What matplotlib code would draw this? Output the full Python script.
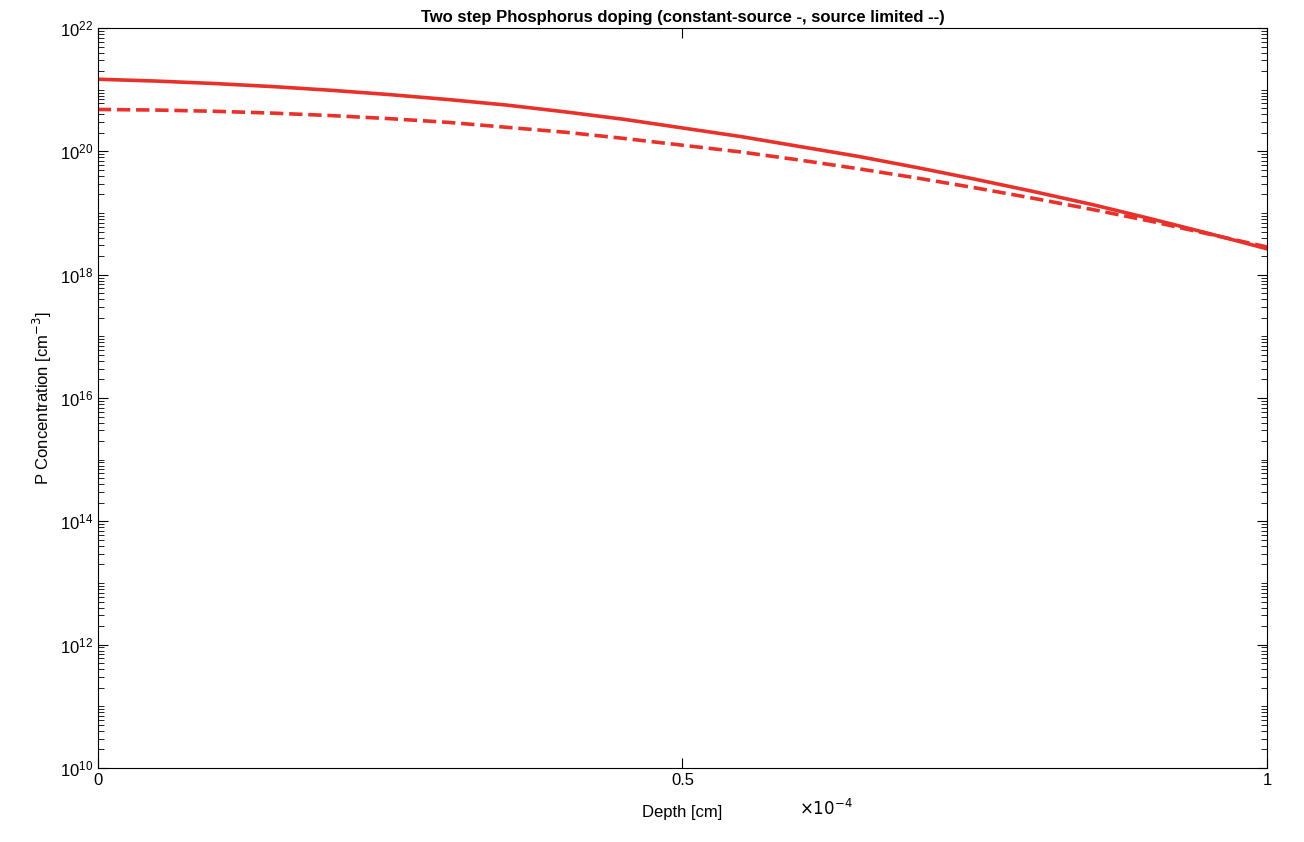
import numpy as np
import matplotlib.pyplot as plt
from matplotlib.ticker import LogLocator, NullFormatter

plt.rcParams['font.family'] = ['Liberation Sans', 'DejaVu Sans']

# depth in units of 1e-4 cm, log10 of concentration
depth = [0.0, 0.05, 0.1, 0.15, 0.2, 0.25, 0.3, 0.35, 0.4, 0.45, 0.5,
         0.55, 0.6, 0.65, 0.7, 0.75, 0.8, 0.85, 0.9, 0.95, 1.0]
log_const = [21.17, 21.14, 21.10, 21.05, 20.99, 20.92, 20.84, 20.75, 20.64, 20.52, 20.38,
             20.24, 20.08, 19.92, 19.74, 19.55, 19.35, 19.14, 18.91, 18.67, 18.10 + 0.32]
log_limited = [20.68, 20.67, 20.65, 20.62, 20.58, 20.53, 20.47, 20.39, 20.31, 20.21, 20.10,
               19.99, 19.86, 19.72, 19.57, 19.41, 19.24, 19.06, 18.87, 18.66, 18.45]

x = np.array(depth) * 1e-4
c = '#E8312A'

fig = plt.figure(figsize=(13.04, 8.42), dpi=100)
ax = fig.add_axes([0.075, 0.0879, 0.8966, 0.8788])
ax.semilogy(x, 10 ** np.array(log_const), '-', color=c, lw=2.6)
ax.semilogy(x, 10 ** np.array(log_limited), '--', color=c, lw=2.6)
ax.set_xlim(0, 1e-4)
ax.set_ylim(1e10, 1e22)
ax.set_xticks([0, 0.5e-4, 1e-4])
ax.set_xticklabels(['0', '0.5', '1'])
ax.set_yticks([10.0 ** k for k in range(10, 23, 2)])
ax.yaxis.set_minor_locator(LogLocator(base=10, subs=np.arange(1, 10), numticks=100))
ax.yaxis.set_minor_formatter(NullFormatter())
ax.tick_params(which='both', direction='in', top=True, right=True, labelsize=12)
ax.tick_params(which='major', length=7)
ax.tick_params(which='minor', length=4)
ax.text(0.6, -0.04, r'$\times10^{-4}$', transform=ax.transAxes, fontsize=12, va='top')
ax.set_xlabel('Depth [cm]', fontsize=12, labelpad=12)
ax.set_ylabel('P Concentration [cm$^{-3}$]', fontsize=12)
ax.set_title('Two step Phosphorus doping (constant-source -, source limited --)',
             fontsize=12, fontweight='bold', pad=4)
fig.savefig('out.png', dpi=100)
